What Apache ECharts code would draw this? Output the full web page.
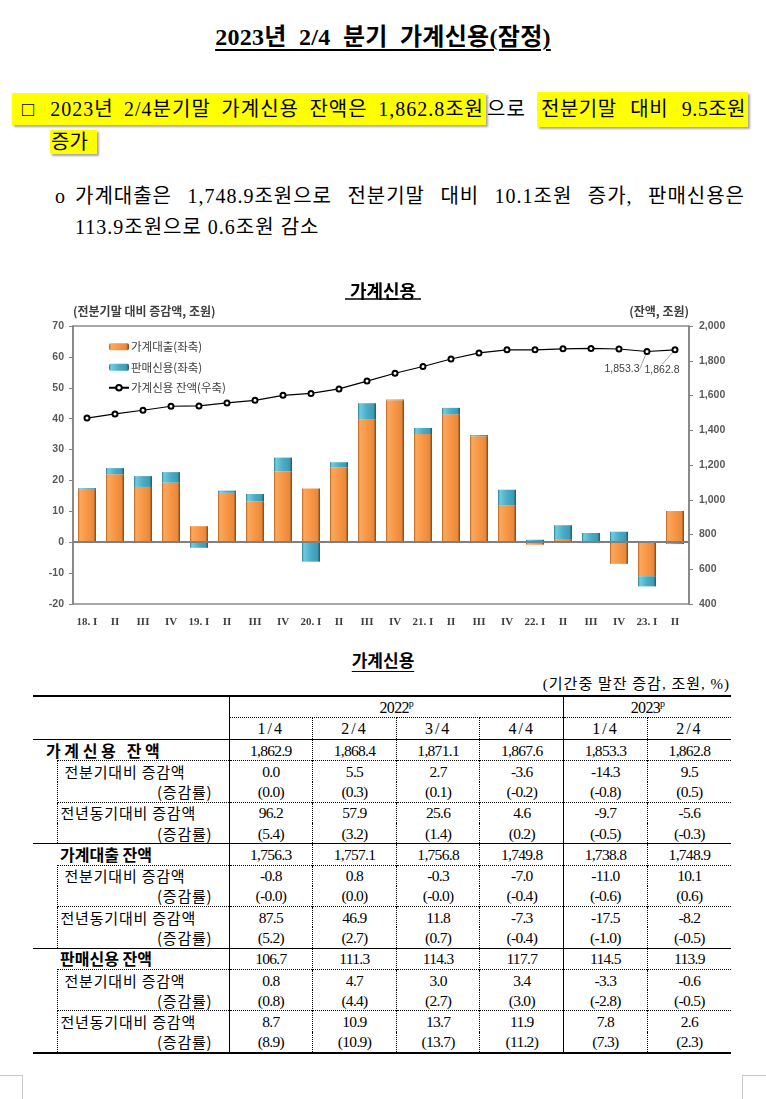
<!DOCTYPE html>
<html><head><meta charset="utf-8">
<script src="https://cdn.jsdelivr.net/npm/echarts/dist/echarts.min.js"></script>
<style>
html,body{margin:0;padding:0;background:#fff;}
body{width:766px;height:1099px;position:relative;overflow:hidden;font-family:"Liberation Serif","Noto Sans CJK KR",serif;color:#000;}
.abs{position:absolute;white-space:nowrap;}
.title{left:0;width:766px;top:21px;text-align:center;font-size:24px;font-weight:bold;line-height:32px;word-spacing:6px;letter-spacing:0.3px;}
.title span{text-decoration:underline;text-decoration-thickness:1.5px;text-underline-offset:4px;}
.hl{background:#ffff00;box-shadow:2px 2px 2px rgba(0,0,0,0.35);}
.just{text-align:justify;text-align-last:justify;white-space:normal;}
.txt{font-size:20px;letter-spacing:1px;}
#chart{position:absolute;left:0;top:270px;width:766px;height:370px;}
.ttl2{left:0;width:766px;top:648px;text-align:center;font-size:17px;font-weight:bold;line-height:24px;font-family:"Noto Sans CJK KR";}
.ttl2 span{text-decoration:underline;text-underline-offset:4px;}
.unit{right:36px;top:674px;font-size:15px;line-height:20px;letter-spacing:1px;}
table{position:absolute;left:33px;top:695px;width:698px;border-collapse:collapse;table-layout:fixed;border-top:2px solid #000;border-bottom:2px solid #000;}
td{padding:0;white-space:nowrap;overflow:visible;line-height:17px;}
td.n{text-align:center;font-size:15.5px;letter-spacing:-0.7px;border-right:1px dotted #000;}
td.c4{border-right:1px solid #000;}
td.c6{border-right:none;}
tr.h1 td{height:20px;font-size:16px;text-align:center;}
tr.h2 td{height:21px;font-size:16px;text-align:center;border-bottom:1px solid #000;letter-spacing:2px;}
tr.h1 td.yr{border-bottom:1px dotted #000;}
tr.r td{height:20.27px;}
td.lab{font-family:"Noto Sans CJK KR";font-size:15px;border-right:1px solid #000;}
td.mainlab{font-weight:bold;font-size:16px;}
tr.main td{border-top:1px solid #000;}
tr.blk td.lab, tr.blk td.n{border-top:1px dotted #000;}
td.sub{border-left:1px dotted #000;letter-spacing:0.8px;}
td.rate{text-align:right;padding-right:16px;}
td.ind{border:none;}
sup{font-size:10px;line-height:0;}
.corner{position:absolute;border-color:#c8c8c8;border-style:solid;border-width:0;}
</style></head>
<body>
<div class="abs title"><span>2023년 2/4 분기 가계신용(잠정)</span></div>

<div class="abs hl" style="left:12px;top:93px;width:474px;height:32px;"></div>
<div class="abs txt just" style="left:22px;top:93px;width:462px;line-height:32px;">□ 2023년 2/4분기말 가계신용 잔액은 1,862.8조원</div>
<div class="abs txt" style="left:487px;top:93px;line-height:32px;">으로</div>
<div class="abs hl" style="left:537px;top:92px;width:211px;height:35px;"></div>
<div class="abs txt just" style="left:541px;top:93px;width:205px;line-height:32px;letter-spacing:0.5px;">전분기말 대비 9.5조원</div>
<div class="abs hl" style="left:50px;top:130px;width:47px;height:24px;"></div>
<div class="abs txt" style="left:51px;top:127px;line-height:30px;letter-spacing:0;">증가</div>

<div class="abs txt" style="left:55px;top:181px;line-height:30px;">o</div>
<div class="abs txt just" style="left:75px;top:181px;width:670px;line-height:30px;">가계대출은 1,748.9조원으로 전분기말 대비 10.1조원 증가, 판매신용은</div>
<div class="abs txt" style="left:75px;top:212px;line-height:30px;">113.9조원으로 0.6조원 감소</div>

<div id="chart"></div>

<div class="abs ttl2"><span>가계신용</span></div>
<div class="abs unit">(기간중 말잔 증감, 조원, %)</div>
<table id="tbl"></table>

<div class="corner" style="left:0;top:1075px;width:22px;height:30px;border-top-width:1px;border-right-width:1px;"></div>
<div class="corner" style="left:742px;top:1075px;width:30px;height:30px;border-top-width:1px;border-left-width:1px;"></div>

<script>
// ---------- chart data ----------
const quarters = ['18. I','II','III','IV','19. I','II','III','IV','20. I','II','III','IV','21. I','II','III','IV','22. I','II','III','IV','23. I','II'];
const householdLoans = [17.0,22.0,17.9,19.3,5.2,16.0,13.2,23.0,17.4,24.2,39.7,46.0,35.0,41.4,34.3,12.0,-0.8,0.8,-0.3,-7.0,-11.0,10.1];
const salesCredit = [0.5,2.0,3.5,3.4,-1.8,0.7,2.4,4.4,-6.3,1.7,5.3,0.2,2.0,2.1,0.4,5.0,0.8,4.7,3.0,3.4,-3.3,-0.6];
const creditBalance = [1470,1494,1515,1538,1540,1557,1572,1601,1612,1638,1683,1728,1767,1810,1845,1863,1862.9,1868.4,1871.1,1867.6,1853.3,1862.8];
const labeledPoints = [20, 21];

// ---------- table data ----------
const quarterCols = ['1/4','2/4','3/4','4/4','1/4','2/4'];
const yearHeads = [['2022',4],['2023',2]];
const hcBal = ['1,862.9','1,868.4','1,871.1','1,867.6','1,853.3','1,862.8'];
const hcQoq = ['0.0','5.5','2.7','-3.6','-14.3','9.5'];
const hcQoqRate = ['(0.0)','(0.3)','(0.1)','(-0.2)','(-0.8)','(0.5)'];
const hcYoy = ['96.2','57.9','25.6','4.6','-9.7','-5.6'];
const hcYoyRate = ['(5.4)','(3.2)','(1.4)','(0.2)','(-0.5)','(-0.3)'];
const loanBal = ['1,756.3','1,757.1','1,756.8','1,749.8','1,738.8','1,748.9'];
const loanQoq = ['-0.8','0.8','-0.3','-7.0','-11.0','10.1'];
const loanQoqRate = ['(-0.0)','(0.0)','(-0.0)','(-0.4)','(-0.6)','(0.6)'];
const loanYoy = ['87.5','46.9','11.8','-7.3','-17.5','-8.2'];
const loanYoyRate = ['(5.2)','(2.7)','(0.7)','(-0.4)','(-1.0)','(-0.5)'];
const salesBal = ['106.7','111.3','114.3','117.7','114.5','113.9'];
const salesQoq = ['0.8','4.7','3.0','3.4','-3.3','-0.6'];
const salesQoqRate = ['(0.8)','(4.4)','(2.7)','(3.0)','(-2.8)','(-0.5)'];
const salesYoy = ['8.7','10.9','13.7','11.9','7.8','2.6'];
const salesYoyRate = ['(8.9)','(10.9)','(13.7)','(11.2)','(7.3)','(2.3)'];

// ---------- build table ----------
(function(){
  const groups = [
    {title:'가 계 신 용&nbsp;&nbsp; 잔 액', pad:13, bal:hcBal, blocks:[['전분기대비 증감액',hcQoq,hcQoqRate,7],['전년동기대비 증감액',hcYoy,hcYoyRate,3]]},
    {title:'가계대출 잔액', pad:27, bal:loanBal, blocks:[['전분기대비 증감액',loanQoq,loanQoqRate,7],['전년동기대비 증감액',loanYoy,loanYoyRate,3]]},
    {title:'판매신용 잔액', pad:27, bal:salesBal, blocks:[['전분기대비 증감액',salesQoq,salesQoqRate,7],['전년동기대비 증감액',salesYoy,salesYoyRate,3]]}
  ];
  const cell = (v,i) => '<td class="n'+(i===3?' c4':'')+(i===5?' c6':'')+'">'+v+'</td>';
  let h = '<colgroup><col style="width:24px"><col style="width:172px">';
  for (let i=0;i<6;i++) h += '<col>';
  h += '</colgroup>';
  h += '<tr class="h1"><td colspan="2" rowspan="2" class="lab" style="border-bottom:1px solid #000"></td>';
  yearHeads.forEach((y,k)=>{ h += '<td colspan="'+y[1]+'" class="n yr'+(k===0?' c4':' c6')+'">'+y[0]+'<sup>p</sup></td>'; });
  h += '</tr><tr class="h2">';
  quarterCols.forEach((q,i)=>{ h += cell(q,i); });
  h += '</tr>';
  groups.forEach(g=>{
    h += '<tr class="r main"><td colspan="2" class="lab mainlab" style="padding-left:'+g.pad+'px">'+g.title+'</td>';
    g.bal.forEach((v,i)=>{ h += cell(v,i); });
    h += '</tr>';
    g.blocks.forEach((b,bi)=>{
      h += '<tr class="r blk">';
      if (bi===0) h += '<td rowspan="4" class="ind"></td>';
      h += '<td class="lab sub" style="padding-left:'+b[3]+'px">'+b[0]+'</td>';
      b[1].forEach((v,i)=>{ h += cell(v,i); });
      h += '</tr><tr class="r"><td class="lab sub rate">(증감률)</td>';
      b[2].forEach((v,i)=>{ h += cell(v,i); });
      h += '</tr>';
    });
  });
  document.getElementById('tbl').innerHTML = h;
})();

// ---------- chart ----------
const orangeGrad = new echarts.graphic.LinearGradient(0,0,1,0,[
  {offset:0,color:'#B8621F'},{offset:0.1,color:'#FBA85A'},{offset:0.5,color:'#F79646'},
  {offset:0.86,color:'#E9893A'},{offset:1,color:'#7E4210'}]);
const blueGrad = new echarts.graphic.LinearGradient(0,0,1,0,[
  {offset:0,color:'#2B7A90'},{offset:0.1,color:'#72CBE1'},{offset:0.5,color:'#4BACC6'},
  {offset:0.86,color:'#3F9BB4'},{offset:1,color:'#1D5666'}]);

const chart = echarts.init(document.getElementById('chart'), null, {renderer:'canvas'});
chart.setOption({
  animation:false,
  backgroundColor:'#fff',
  title:{text:'가계신용', left:'center', top:7, textStyle:{fontSize:18, fontWeight:'bold', color:'#000', fontFamily:'Noto Sans CJK KR'}},
  graphic:[{type:'line', shape:{x1:345,y1:29,x2:421,y2:29}, style:{stroke:'#000', lineWidth:1.5}}],
  legend:{
    left:103, top:66, orient:'vertical', itemGap:9, itemWidth:20, itemHeight:7,
    textStyle:{fontSize:11.5, color:'#404040', fontFamily:'Noto Sans CJK KR', padding:[0,0,0,-3]},
    data:['가계대출(좌축)','판매신용(좌축)','가계신용 잔액(우축)']
  },
  grid:{left:73, right:77, top:56, bottom:36, show:true, borderColor:'#8c8c8c', borderWidth:1.5, containLabel:false},
  xAxis:{
    type:'category', data:quarters,
    axisLine:{show:false}, axisTick:{show:false},
    axisLabel:{fontFamily:'Liberation Serif', fontWeight:'bold', fontSize:11, color:'#404040', margin:13, interval:0}
  },
  yAxis:[
    {type:'value', min:-20, max:70, interval:10, position:'left',
     axisLine:{show:true, lineStyle:{color:'#808080', width:1.5}},
     axisTick:{show:true, length:4, lineStyle:{color:'#808080'}},
     splitLine:{show:false},
     axisLabel:{fontFamily:'Liberation Sans', fontWeight:'bold', fontSize:10.5, color:'#595959', margin:9},
     name:'(전분기말 대비 증감액, 조원)', nameLocation:'end', nameGap:9,
     nameTextStyle:{align:'left', fontWeight:'bold', fontSize:12, color:'#404040', fontFamily:'Noto Sans CJK KR'}},
    {type:'value', min:400, max:2000, interval:200, position:'right',
     axisLine:{show:true, lineStyle:{color:'#808080', width:1.5}},
     axisTick:{show:true, length:4, lineStyle:{color:'#808080'}},
     splitLine:{show:false},
     axisLabel:{fontFamily:'Liberation Sans', fontWeight:'bold', fontSize:10.5, color:'#595959', margin:10,
       formatter:v=>v.toLocaleString('en-US')},
     name:'(잔액, 조원)', nameLocation:'end', nameGap:9,
     nameTextStyle:{align:'right', fontWeight:'bold', fontSize:12, color:'#404040', fontFamily:'Noto Sans CJK KR'}}
  ],
  series:[
    {name:'가계대출(좌축)', type:'bar', stack:'credit', barWidth:18, data:householdLoans,
     itemStyle:{color:orangeGrad},
     markLine:{silent:true, symbol:'none', label:{show:false}, data:[{yAxis:0}],
       lineStyle:{color:'#7f7f7f', width:2, type:'solid'}}},
    {name:'판매신용(좌축)', type:'bar', stack:'credit', barWidth:18, data:salesCredit,
     itemStyle:{color:blueGrad}},
    {name:'가계신용 잔액(우축)', type:'line', yAxisIndex:1, z:5,
     data:creditBalance.map((v,i)=> labeledPoints.includes(i) ? {value:v, label:{show:true}} : v),
     symbol:'emptyCircle', symbolSize:5,
     lineStyle:{color:'#000', width:1.2}, itemStyle:{color:'#000', borderWidth:1},
     label:{show:false, position:'inside', fontSize:10.5, color:'#404040', fontFamily:'Liberation Sans',
       formatter:p=>p.value.toLocaleString('en-US',{minimumFractionDigits:1, maximumFractionDigits:1})},
     labelLine:{show:true, lineStyle:{color:'#a6a6a6', width:1}},
     labelLayout:function(p){
       if (p.dataIndex===labeledPoints[0]) return {dx:-25, dy:18};
       if (p.dataIndex===labeledPoints[1]) return {dx:-13, dy:20};
     }}
  ]
});
</script>
</body></html>
